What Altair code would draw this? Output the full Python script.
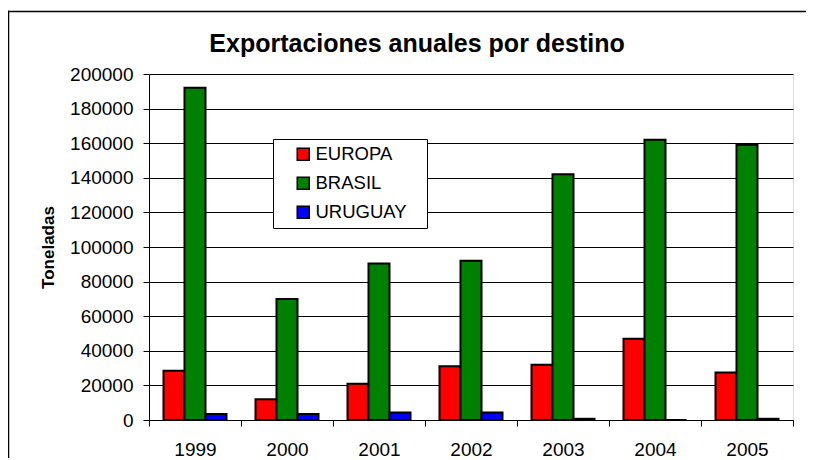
import altair as alt
import pandas as pd

years = ["1999", "2000", "2001", "2002", "2003", "2004", "2005"]
series = ["EUROPA", "BRASIL", "URUGUAY"]
europa = [28500, 12000, 21000, 31000, 32000, 47000, 27500]
brasil = [192000, 70000, 90500, 92000, 142000, 162000, 159000]
uruguay = [3400, 3400, 4300, 4300, 700, 0, 700]
colors = ["#FF0000", "#008000", "#0000FF"]
y_ticks = [0, 20000, 40000, 60000, 80000, 100000, 120000, 140000, 160000, 180000, 200000]
title_text = "Exportaciones anuales por destino"
y_title = "Toneladas"

rows = []
for i, yr in enumerate(years):
    for s, vals in zip(series, [europa, brasil, uruguay]):
        rows.append({"year": yr, "serie": s, "value": vals[i]})
df = pd.DataFrame(rows)
title_df = pd.DataFrame({"t": [title_text]})

FONT = "Liberation Sans"

bars = alt.Chart(df).mark_bar(stroke="black", strokeWidth=2).encode(
    x=alt.X("year:N", sort=years,
            scale=alt.Scale(paddingInner=0, paddingOuter=0),
            axis=alt.Axis(title=None, labelAngle=0, tickBand="extent", tickSize=6,
                          labelPadding=14, labelFontSize=19, labelFont=FONT,
                          labelColor="black", domainColor="black", tickColor="black",
                          grid=False)),
    xOffset=alt.XOffset("serie:N", sort=series,
                        scale=alt.Scale(paddingOuter=0.69, paddingInner=0)),
    y=alt.Y("value:Q", scale=alt.Scale(domain=[0, 200000], nice=False),
            axis=alt.Axis(title=y_title, values=y_ticks, format="d", tickSize=6,
                          labelPadding=10, labelFontSize=19, labelFont=FONT,
                          labelColor="black", domainColor="black", tickColor="black",
                          grid=True, gridColor="black", gridWidth=1,
                          titleFont=FONT, titleFontSize=17, titleFontWeight="bold",
                          titleColor="black", titleAngle=270, titleX=-101, titleY=173,
                          titleAlign="center", titleBaseline="middle")),
    color=alt.Color("serie:N", sort=series,
                    scale=alt.Scale(domain=series, range=colors),
                    legend=alt.Legend(orient="none", legendX=124, legendY=65, title=None,
                                      fillColor="white", strokeColor="black", padding=6,
                                      symbolType="square", symbolSize=144,
                                      symbolStrokeColor="black", symbolStrokeWidth=1.5,
                                      symbolOffset=15, labelOffset=3,
                                      labelFontSize=18.5, labelFont=FONT, labelColor="black",
                                      rowPadding=10,
                                      labelExpr="datum.label + '\u2800'")),
)

title = alt.Chart(title_df).mark_text(
    font=FONT, fontSize=25, fontWeight="bold", align="center",
    baseline="alphabetic", color="black"
).encode(text="t:N", x=alt.value(268), y=alt.value(-22))

# chart frame (top and left edges; right and bottom lie outside the picture)
border_top = alt.Chart(title_df).mark_rect(fill="black", strokeWidth=0).encode(
    x=alt.value(-141.25), x2=alt.value(657), y=alt.value(-63.25), y2=alt.value(-61.75))
border_left = alt.Chart(title_df).mark_rect(fill="black", strokeWidth=0).encode(
    x=alt.value(-141.25), x2=alt.value(-139.75), y=alt.value(-63.25), y2=alt.value(384))

chart = alt.layer(border_top, border_left, bars, title).properties(
    width=644, height=346,
    padding={"left": 141, "top": 66, "right": 14, "bottom": 38},
    autosize=alt.AutoSizeParams(type="none"),
).configure_view(stroke="#808080", strokeWidth=2, fill="#FFFFCC").configure(background="white")

chart.save("out.html", embed_options={"renderer": "svg", "actions": False})
